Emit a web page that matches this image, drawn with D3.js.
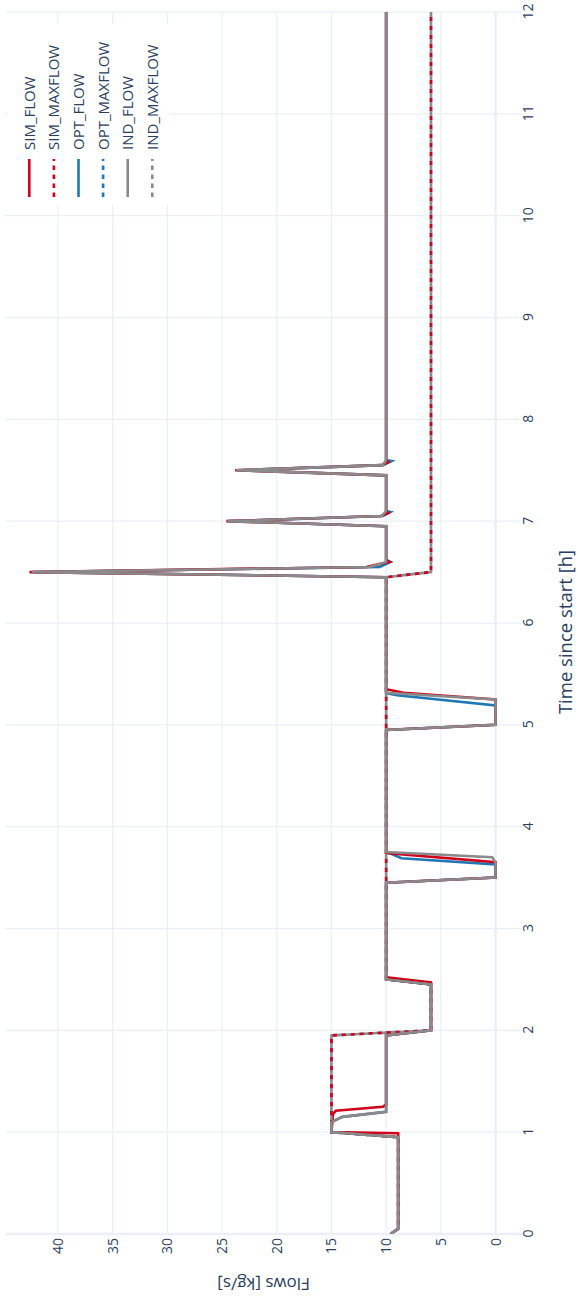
<!DOCTYPE html>
<html>
<head>
<meta charset="utf-8">
<script src="https://cdn.jsdelivr.net/npm/d3@7"></script>
<style>
  html, body { margin: 0; padding: 0; background: #fff; }
  svg { display: block; font-family: "Open Sans", Arial, sans-serif; }
</style>
</head>
<body>
<svg id="chart" width="578" height="1296"></svg>
<script>
// ---- data -------------------------------------------------------------
const hourTicks = [0, 1, 2, 3, 4, 5, 6, 7, 8, 9, 10, 11, 12];
const flowTicks = [0, 5, 10, 15, 20, 25, 30, 35, 40];

const simTime = [0, 0.05, 0.99, 1.0, 1.18, 1.21, 1.25, 1.27, 1.95, 2.0, 2.47, 2.52, 3.45, 3.5, 3.65, 3.74,
                 4.95, 5.0, 5.25, 5.315, 5.35, 6.45, 6.5, 6.55, 6.58, 6.6, 6.62, 6.95, 7.0, 7.05, 7.08, 7.1,
                 7.45, 7.5, 7.55, 7.58, 7.6, 12];
const simFlow = [9.6, 8.9, 8.9, 15, 14.85, 14.6, 10.3, 10, 10, 5.9, 5.9, 10, 10, 0, 0, 10,
                 10, 0, 0, 8.4, 10, 10, 42.6, 11.8, 10.6, 9.7, 10, 10, 24.6, 10.5, 9.8, 10,
                 10, 23.8, 10.4, 9.8, 10, 10];

const optTime = [0, 0.05, 0.95, 1.0, 1.1, 1.15, 1.2, 1.95, 2.0, 2.45, 2.5, 3.45, 3.5, 3.63, 3.69, 3.755,
                 4.95, 5.0, 5.19, 5.29, 5.31, 6.45, 6.5, 6.55, 6.6, 6.62, 6.95, 7.0, 7.05, 7.09, 7.1,
                 7.45, 7.5, 7.55, 7.59, 7.6, 12];
const optFlow = [9.6, 8.9, 8.9, 15, 15, 14.0, 10, 10, 5.9, 5.9, 10, 10, 0, 0, 8.6, 10,
                 10, 0, 0, 9.0, 10, 10, 42.3, 10.6, 9.6, 10, 10, 24.4, 10.3, 9.6, 10,
                 10, 23.6, 10.3, 9.5, 10, 10];

const indTime = [0, 0.05, 0.95, 1.0, 1.1, 1.15, 1.2, 1.95, 2.0, 2.45, 2.5, 3.45, 3.5, 3.65, 3.7, 3.75,
                 4.95, 5.0, 5.25, 5.315, 6.45, 6.5, 6.55, 6.6, 6.95, 7.0, 7.05, 7.1,
                 7.45, 7.5, 7.55, 7.6, 12];
const indFlow = [9.6, 8.9, 8.9, 15, 15, 14.0, 10, 10, 5.9, 5.9, 10, 10, 0, 0, 0.3, 10,
                 10, 0, 0, 10, 10, 42.4, 11.5, 10, 10, 24.5, 10.4, 10,
                 10, 23.7, 10.3, 10, 10];

const maxTime    = [0, 0.05, 0.95, 1.0, 1.95, 2.0, 2.45, 2.5, 6.45, 6.5, 12];
const simMaxFlow = [9.6, 8.9, 8.9, 15, 15, 5.9, 5.9, 10, 10, 5.9, 5.9];
const optMaxFlow = [9.6, 8.9, 8.9, 15, 15, 5.9, 5.9, 10, 10, 5.9, 5.9];
const indMaxFlow = [9.6, 8.9, 8.9, 15, 15, 5.9, 5.9, 10, 10, 5.9, 5.9];

const seriesNames = ["SIM_FLOW", "SIM_MAXFLOW", "OPT_FLOW", "OPT_MAXFLOW", "IND_FLOW", "IND_MAXFLOW"];

// ---- styling ----------------------------------------------------------
const RED = "#d0021b", BLUE = "#1f77b4", GREY = "#8a8a8a";
const TEXT = "#2a3f5f", GRID = "#ebf0f8";
const LINE_W = 2.6, DOT = "4.5,4.5";

const series = [
  { name: "SIM_FLOW",    t: simTime, v: simFlow,    color: RED,  dash: null, order: 2 },
  { name: "SIM_MAXFLOW", t: maxTime, v: simMaxFlow, color: RED,  dash: DOT,  order: 3, offset: 4.5 },
  { name: "OPT_FLOW",    t: optTime, v: optFlow,    color: BLUE, dash: null, order: 0 },
  { name: "OPT_MAXFLOW", t: maxTime, v: optMaxFlow, color: BLUE, dash: DOT,  order: 1, offset: 4.5 },
  { name: "IND_FLOW",    t: indTime, v: indFlow,    color: GREY, dash: null, order: 4 },
  { name: "IND_MAXFLOW", t: maxTime, v: indMaxFlow, color: GREY, dash: DOT,  order: 5, offset: 0 }
];

// ---- layout: the chart is laid out landscape and turned on its side ---
const FRAME_W = 1296;
const svg = d3.select("#chart");
svg.append("rect").attr("width", 578).attr("height", 1296).attr("fill", "#fff");
const g = svg.append("g").attr("transform", `translate(0,${FRAME_W}) rotate(-90)`);

const plotL = 62, plotR = 1284, plotT = 5.2, plotB = 522;
const x = d3.scaleLinear().domain([0, 12]).range([plotL, plotR]);
const y = d3.scaleLinear().domain([-2.42, 44.82]).range([plotB, plotT]);

// grid
const grid = g.append("g");
grid.selectAll("line.vx").data(hourTicks).join("line")
  .attr("x1", d => x(d)).attr("x2", d => x(d))
  .attr("y1", plotT).attr("y2", plotB)
  .attr("stroke", GRID).attr("stroke-width", d => d === 0 ? 2.5 : 1.25);
grid.selectAll("line.hy").data(flowTicks).join("line")
  .attr("x1", plotL).attr("x2", plotR)
  .attr("y1", d => y(d)).attr("y2", d => y(d))
  .attr("stroke", GRID).attr("stroke-width", d => d === 0 ? 2.5 : 1.25);

// axes
const xAxis = d3.axisBottom(x).tickValues(hourTicks).tickSize(0).tickFormat(d3.format("d"));
g.append("g").attr("transform", `translate(0,${plotB})`).call(xAxis)
  .call(a => a.select(".domain").remove())
  .selectAll("text")
  .attr("y", 11).attr("dy", null)
  .attr("fill", TEXT).style("font-size", "14px").style("font-family", "'Open Sans', Arial, sans-serif");

const yAxis = d3.axisLeft(y).tickValues(flowTicks).tickSize(0).tickFormat(d3.format("d"));
g.append("g").attr("transform", `translate(${plotL},0)`).call(yAxis)
  .call(a => a.select(".domain").remove())
  .selectAll("text")
  .attr("x", -4)
  .attr("fill", TEXT).style("font-size", "14px").style("font-family", "'Open Sans', Arial, sans-serif");

// axis titles
g.append("text")
  .attr("x", 664).attr("y", 572)
  .attr("text-anchor", "middle").attr("fill", TEXT)
  .style("font-size", "18.5px")
  .text("Time since start [h]");
g.append("text")
  .attr("transform", `translate(18,${(plotT + plotB) / 2}) rotate(-90)`)
  .attr("text-anchor", "middle").attr("fill", TEXT)
  .style("font-size", "17px")
  .text("Flows [kg/s]");

// traces
g.append("clipPath").attr("id", "plot-clip")
  .append("rect").attr("x", plotL).attr("y", plotT)
  .attr("width", plotR - plotL).attr("height", plotB - plotT);

const line = d3.line().x(d => x(d[0])).y(d => y(d[1]));
const traces = g.append("g").attr("clip-path", "url(#plot-clip)");
series.slice().sort((a, b) => a.order - b.order).forEach(s => {
  traces.append("path")
    .attr("d", line(d3.zip(s.t, s.v)))
    .attr("fill", "none")
    .attr("stroke", s.color)
    .attr("stroke-width", LINE_W)
    .attr("stroke-dasharray", s.dash)
    .attr("stroke-dashoffset", s.dash ? s.offset : null);
});

// legend
const legend = g.append("g");
legend.append("rect")
  .attr("x", 1091).attr("y", 7).attr("width", 181).attr("height", 163)
  .attr("fill", "#fff");
const items = legend.selectAll("g.item").data(seriesNames.map(n => series.find(s => s.name === n)))
  .join("g").attr("transform", (d, i) => `translate(1099,${29.3 + i * 24.6})`);
items.append("line")
  .attr("x1", 0).attr("x2", 38).attr("y1", 0).attr("y2", 0)
  .attr("stroke", d => d.color).attr("stroke-width", LINE_W)
  .attr("stroke-dasharray", d => d.dash);
items.append("text")
  .attr("x", 47).attr("y", 0).attr("dy", "0.36em")
  .attr("fill", TEXT).style("font-size", "15px")
  .text(d => d.name);
</script>
</body>
</html>
